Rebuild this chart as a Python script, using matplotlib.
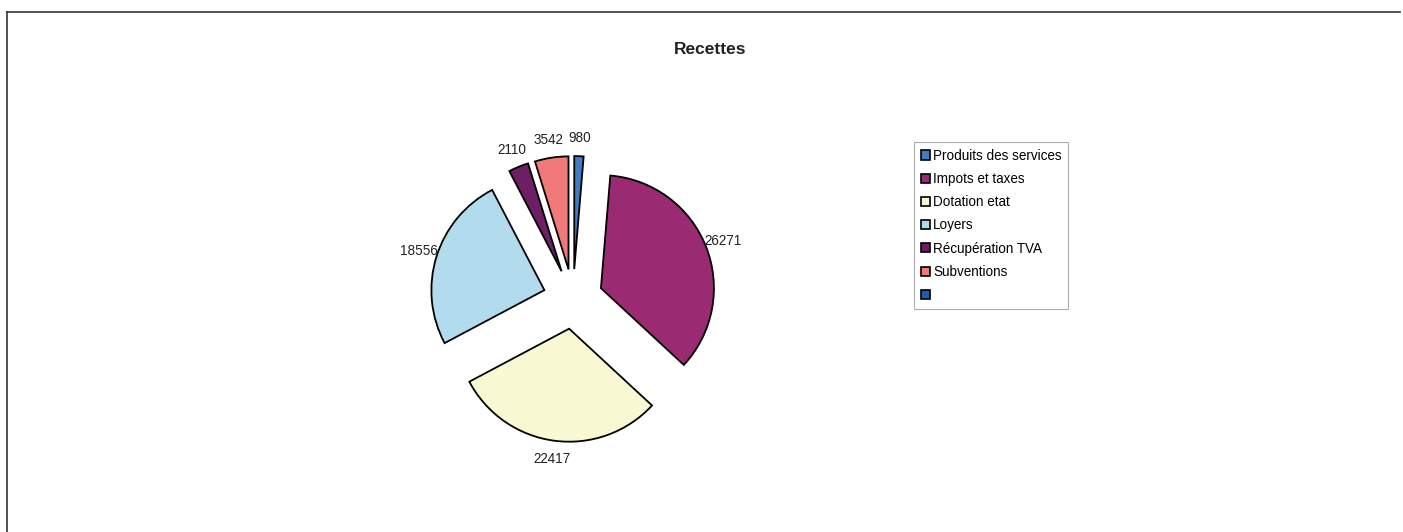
import matplotlib.pyplot as plt
from matplotlib.patches import Patch
from matplotlib.lines import Line2D

plt.rcParams['font.family'] = ['Liberation Sans', 'DejaVu Sans']

# data
categories = ["Produits des services", "Impots et taxes", "Dotation etat", "Loyers",
              "Récupération TVA", "Subventions", ""]
values = [980, 26271, 22417, 18556, 2110, 3542]
colors = ["#3f7cc4", "#9a2b72", "#f8f8d2", "#b2dcee", "#6c1f62", "#f07a7a", "#1f5ea8"]

W, H = 1403, 532
fig = plt.figure(figsize=(W / 100, H / 100), dpi=100)
fig.patch.set_facecolor("white")

# pie axes: centre at (573, 299) px, radius 113 px
half = 200
ax = fig.add_axes([(573 - half) / W, (H - 299 - half) / H, 2 * half / W, 2 * half / H])
n = len(values)
wedges, texts = ax.pie(values, labels=[str(v) for v in values], colors=colors[:n],
                       startangle=90, counterclock=False,
                       explode=[0.265] * n, labeldistance=1.16,
                       wedgeprops={"edgecolor": "black", "linewidth": 1.3},
                       textprops={"fontsize": 9.75, "color": "#222222"})
for t in texts:
    t.set_horizontalalignment("center")
lim = half / 113
ax.set_xlim(-lim, lim)
ax.set_ylim(-lim, lim)
ax.set_aspect("equal")
ax.axis("off")

# title
fig.text(710 / W, 1 - 49 / H, "Recettes", ha="center", va="center",
         fontsize=12.5, fontweight="bold", color="#222222")

# legend
handles = []
for i in range(len(categories)):
    handles.append(Patch(facecolor=colors[i], edgecolor="black", linewidth=1.2))
leg = fig.legend(handles, categories, loc="upper left",
                 bbox_to_anchor=(914 / W, 1 - 142 / H), fontsize=9.75,
                 frameon=True, fancybox=False, edgecolor="#999999",
                 handlelength=0.65, handleheight=0.65, handletextpad=0.25,
                 labelspacing=0.68, borderpad=0.5, borderaxespad=0)
leg.get_frame().set_linewidth(0.8)

# outer frame (top and left edges only, as in the scan)
fig.add_artist(Line2D([7 / W, 1400 / W], [1 - 12 / H, 1 - 12 / H], color="#333333", lw=1.2))
fig.add_artist(Line2D([7 / W, 7 / W], [0, 1 - 12 / H], color="#333333", lw=1.2))

fig.savefig("out.png", dpi=100)
